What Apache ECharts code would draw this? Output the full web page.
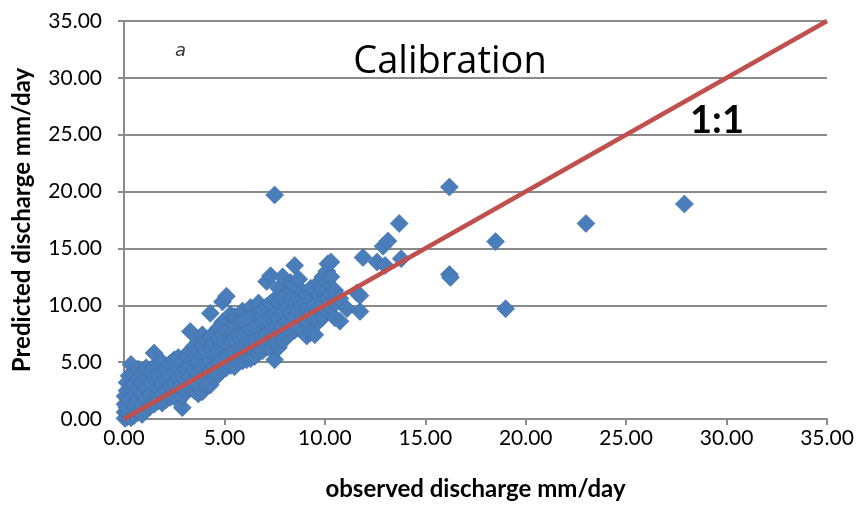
<!DOCTYPE html>
<html>
<head>
<meta charset="utf-8">
<script src="https://cdn.jsdelivr.net/npm/echarts@6/dist/echarts.min.js"></script>
<style>
html,body{margin:0;padding:0;background:#fff;}
#chart{width:860px;height:506px;}
</style>
</head>
<body>
<div id="chart"></div>
<script>
// Observed vs predicted discharge (mm/day), calibration period
const calibrationPoints = [
  [0.05,0.05],[0.05,0.6],[0.05,1.3],[0.05,2.0],
  [0.15,0.2],[0.15,1.0],[0.15,2.5],[0.15,3.2],
  [0.25,0.4],[0.25,1.7],[0.25,3.8],
  [0.35,0.1],[0.35,2.8],[0.35,4.8],
  [0.5,0.3],[0.5,1.2],[0.5,2.1],[0.5,3.0],[0.5,3.9],
  [0.7,0.6],[0.7,1.6],[0.7,2.6],[0.7,3.5],[0.7,4.4],
  [0.9,0.4],[0.9,1.3],[0.9,2.2],[0.9,3.1],[0.9,4.0],
  [1.1,0.8],[1.1,1.8],[1.1,2.8],[1.1,3.7],[1.1,4.5],
  [1.3,1.1],[1.3,2.1],[1.3,3.2],[1.3,4.2],
  [1.5,1.3],[1.5,2.4],[1.5,3.5],[1.5,4.6],[1.5,5.8],
  [1.7,1.6],[1.7,2.7],[1.7,3.8],[1.7,4.8],
  [1.9,1.4],[1.9,2.2],[1.9,3.1],[1.9,4.1],[1.9,5.0],
  [2.1,1.7],[2.1,2.6],[2.1,3.5],[2.1,4.4],
  [2.3,1.9],[2.3,2.9],[2.3,3.9],[2.3,4.9],
  [2.5,2.1],[2.5,3.1],[2.5,4.1],[2.5,5.2],
  [2.7,1.6],[2.7,2.5],[2.7,3.5],[2.7,4.5],[2.7,5.4],
  [2.9,1.0],[2.9,2.0],[2.9,3.0],[2.9,4.0],[2.9,5.0],
  [3.1,2.4],[3.1,3.4],[3.1,4.4],[3.1,5.6],
  [3.3,2.7],[3.3,3.7],[3.3,4.7],[3.3,6.0],[3.3,7.7],
  [3.5,2.5],[3.5,3.3],[3.5,4.2],[3.5,5.2],[3.5,6.4],
  [3.7,2.2],[3.7,3.0],[3.7,4.0],[3.7,5.0],[3.7,6.8],
  [3.9,2.4],[3.9,3.5],[3.9,4.5],[3.9,5.5],[3.9,6.5],[3.9,7.4],
  [4.1,3.0],[4.1,3.9],[4.1,4.9],[4.1,5.9],[4.1,6.9],
  [4.3,3.0],[4.3,4.2],[4.3,5.2],[4.3,6.3],[4.3,7.2],[4.3,9.3],
  [4.5,3.6],[4.5,4.6],[4.5,5.6],[4.5,6.6],[4.5,7.6],
  [4.7,3.9],[4.7,4.9],[4.7,6.0],[4.7,7.0],[4.7,8.0],
  [4.9,4.3],[4.9,5.3],[4.9,6.4],[4.9,7.4],[4.9,8.5],[4.9,10.3],
  [5.1,4.5],[5.1,5.6],[5.1,6.7],[5.1,7.8],[5.1,8.7],[5.1,10.8],
  [5.3,4.7],[5.3,5.8],[5.3,6.9],[5.3,8.0],[5.3,9.2],
  [5.5,4.6],[5.5,5.9],[5.5,7.1],[5.5,8.3],[5.5,9.0],
  [5.7,5.0],[5.7,6.2],[5.7,7.4],[5.7,8.6],
  [5.9,5.1],[5.9,6.3],[5.9,7.5],[5.9,8.7],[5.9,9.5],
  [6.1,5.2],[6.1,6.5],[6.1,7.7],[6.1,8.9],
  [6.3,5.3],[6.3,6.7],[6.3,7.9],[6.3,9.1],[6.3,9.8],
  [6.5,5.5],[6.5,6.9],[6.5,8.1],[6.5,9.3],
  [6.7,5.8],[6.7,7.1],[6.7,8.3],[6.7,9.5],[6.7,10.2],
  [6.9,6.0],[6.9,7.3],[6.9,8.5],[6.9,9.6],
  [7.1,6.3],[7.1,7.5],[7.1,8.7],[7.1,9.9],[7.1,12.1],
  [7.3,6.2],[7.3,7.8],[7.3,9.0],[7.3,10.2],[7.3,12.6],
  [7.5,5.2],[7.5,6.6],[7.5,8.0],[7.5,9.2],[7.5,10.5],[7.5,19.7],
  [7.7,6.3],[7.7,7.7],[7.7,8.8],[7.7,10.3],[7.7,11.5],
  [7.9,7.0],[7.9,8.2],[7.9,9.5],[7.9,10.7],[7.9,12.5],
  [8.1,7.2],[8.1,8.5],[8.1,9.8],[8.1,11.0],
  [8.3,7.7],[8.3,8.2],[8.3,9.3],[8.3,10.5],[8.3,12.0],
  [8.5,7.8],[8.5,9.0],[8.5,10.2],[8.5,11.8],[8.5,13.5],
  [8.7,8.0],[8.7,9.5],[8.7,10.6],[8.7,12.3],
  [8.9,7.7],[8.9,9.0],[8.9,10.0],[8.9,11.2],
  [9.1,7.3],[9.1,8.6],[9.1,9.8],[9.1,10.9],
  [9.3,7.6],[9.3,9.2],[9.3,10.5],[9.3,11.5],
  [9.5,7.4],[9.5,8.8],[9.5,10.0],[9.5,11.2],
  [9.7,8.6],[9.7,9.8],[9.7,10.9],[9.7,12.0],
  [9.9,9.0],[9.9,10.3],[9.9,11.4],[9.9,12.5],
  [10.1,9.5],[10.1,10.6],[10.1,12.1],[10.1,13.0],[10.15,13.65],
  [10.3,9.8],[10.3,11.0],[10.3,12.5],[10.3,13.8],
  [10.5,8.9],[10.5,10.2],[10.5,11.3],
  [10.75,8.6],[10.75,10.6],[11.1,9.7],
  [11.6,11.1],[11.75,9.45],[11.75,10.85],
  [11.9,14.2],[12.6,13.8],[13.0,13.5],[12.9,15.2],[13.14,15.66],
  [13.7,17.2],[13.8,14.1],
  [16.2,20.4],[16.2,12.7],[16.25,12.45],
  [18.5,15.6],[19.0,9.7],[23.0,17.2],[27.9,18.9]
];
const oneToOneLine = [[0,0],[35,35]];
const axisMin = 0, axisMax = 35, axisStep = 5;

const chart = echarts.init(document.getElementById('chart'));
const font = 'Lato';
const gridGray = '#8a8a8a';

chart.setOption({
  animation: false,
  backgroundColor: '#ffffff',
  title: {
    text: 'Calibration',
    left: 445, top: 38,
    textAlign: 'center',
    textStyle: {fontFamily: 'Open Sans', fontSize: 38, fontWeight: 'normal', color: '#000'}
  },
  grid: {left: 124, right: 33, top: 21, bottom: 85},
  xAxis: {
    type: 'value', min: axisMin, max: axisMax, interval: axisStep,
    name: 'observed discharge mm/day', nameLocation: 'middle', nameGap: 58,
    nameTextStyle: {fontFamily: font, fontSize: 24, fontWeight: 'bold', color: '#000'},
    axisLine: {show: true, lineStyle: {color: gridGray, width: 2}},
    axisTick: {show: true, length: 6, lineStyle: {color: gridGray, width: 2}},
    splitLine: {show: false},
    axisLabel: {margin: 9, fontFamily: font, fontSize: 21, color: '#000',
      formatter: v => v.toFixed(2)}
  },
  yAxis: {
    type: 'value', min: axisMin, max: axisMax, interval: axisStep,
    name: 'Predicted discharge mm/day', nameLocation: 'middle', nameGap: 90,
    nameTextStyle: {fontFamily: font, fontSize: 24, fontWeight: 'bold', color: '#000'},
    axisLine: {show: true, lineStyle: {color: gridGray, width: 2}},
    axisTick: {show: true, length: 6, lineStyle: {color: gridGray, width: 2}},
    splitLine: {show: true, lineStyle: {color: gridGray, width: 2}},
    axisLabel: {margin: 22, fontFamily: font, fontSize: 21, color: '#000',
      formatter: v => v.toFixed(2)}
  },
  graphic: [
    {type: 'text', left: 175, top: 42,
     style: {text: 'a', fontFamily: 'DejaVu Sans', fontStyle: 'italic', fontSize: 18, fill: '#333'}},
    {type: 'text', x: 717, y: 121,
     style: {text: '1:1', fontFamily: font, fontWeight: 'bold', fontSize: 38, fill: '#000',
             align: 'center', verticalAlign: 'middle'}}
  ],
  series: [
    {
      type: 'scatter',
      data: calibrationPoints,
      symbol: 'diamond',
      symbolSize: 18,
      itemStyle: {color: '#4A7EBB', borderColor: '#3E6DA6', borderWidth: 0.6, opacity: 1},
      z: 2
    },
    {
      type: 'line',
      data: oneToOneLine,
      symbol: 'none',
      lineStyle: {color: '#C0504D', width: 4.5},
      z: 3
    }
  ]
});
</script>
</body>
</html>
